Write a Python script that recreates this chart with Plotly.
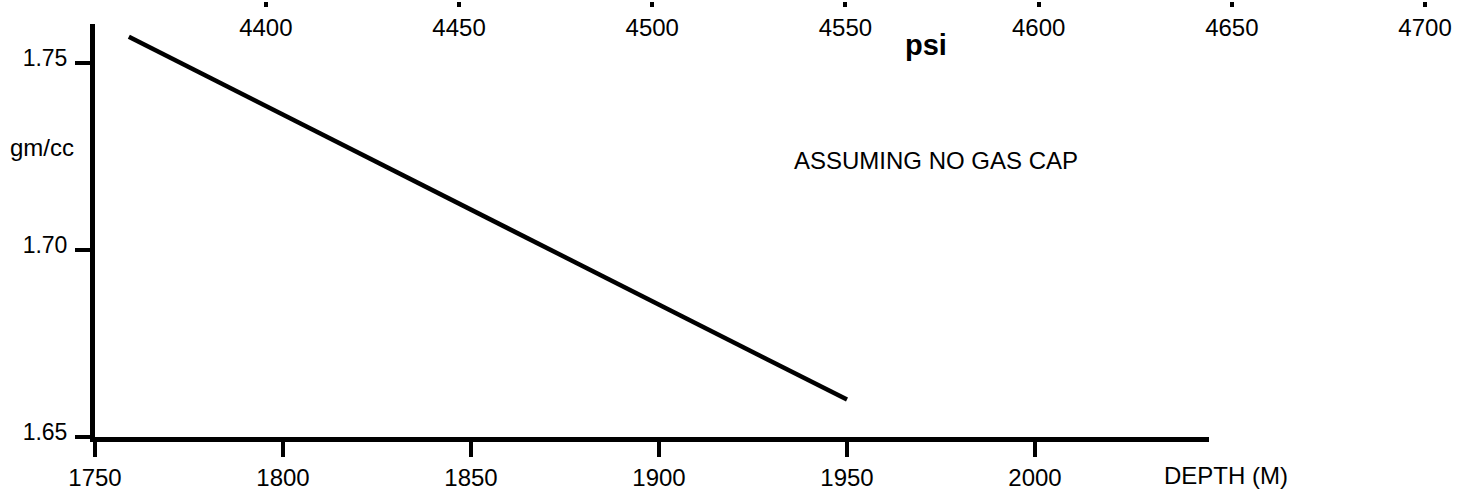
import plotly.graph_objects as go

# ---- data ----
depth_m = [1759, 1950]            # DEPTH (M)
density_gcc = [1.757, 1.660]      # gm/cc

depth_ticks = [1750, 1800, 1850, 1900, 1950, 2000]
density_ticks = [1.65, 1.70, 1.75]
density_labels = ["1.65", "1.70", "1.75"]
psi_ticks = [4400, 4450, 4500, 4550, 4600, 4650, 4700]

W, H = 1478, 495
FONT = "Liberation Sans, Arial, sans-serif"

fig = go.Figure()

fig.add_trace(go.Scatter(
    x=depth_m, y=density_gcc, mode="lines",
    line=dict(color="black", width=4.5),
    hoverinfo="skip", showlegend=False,
))

# invisible helper trace so the psi axis gets drawn
fig.add_trace(go.Scatter(
    x=psi_ticks, y=[0] * len(psi_ticks), mode="markers",
    marker=dict(opacity=0), xaxis="x2", yaxis="y3",
    hoverinfo="skip", showlegend=False,
))

fig.update_layout(
    width=W, height=H,
    margin=dict(l=0, r=0, t=0, b=0, autoexpand=False),
    showlegend=False,
    paper_bgcolor="white", plot_bgcolor="white",
    font=dict(family=FONT, color="black", size=24),
    xaxis=dict(
        domain=[95 / W, 1209 / W],
        range=[1750, 2046.28],
        anchor="y", automargin=False,
        showline=True, linecolor="black", linewidth=5,
        showgrid=False, zeroline=False,
        tickmode="array", tickvals=depth_ticks,
        ticks="outside", ticklen=15, tickwidth=4, tickcolor="black",
        ticklabelstandoff=0,
        tickfont=dict(size=24),
    ),
    yaxis=dict(
        domain=[1 - 437 / H, 1 - 24 / H],
        range=[1.65, 1.76043],
        anchor="x", automargin=False,
        showline=True, linecolor="black", linewidth=5,
        showgrid=False, zeroline=False,
        tickmode="array", tickvals=density_ticks, ticktext=density_labels,
        ticks="outside", ticklen=15, tickwidth=4, tickcolor="black",
        ticklabelstandoff=3, ticklabelshift=-5,
        tickfont=dict(size=23),
    ),
    xaxis2=dict(
        domain=[0, 1],
        range=[4331.2, 4713.7],
        anchor="y3", side="bottom", automargin=False,
        showline=False, showgrid=False, zeroline=False,
        tickmode="array", tickvals=psi_ticks,
        ticks="outside", ticklen=5, tickwidth=4, tickcolor="black",
        ticklabelstandoff=0,
        tickfont=dict(size=24),
    ),
    yaxis3=dict(
        domain=[1 - 1 / H, 1],
        anchor="x2", visible=False, range=[-1, 1],
    ),
    annotations=[
        dict(text="gm/cc", xref="paper", yref="paper",
             x=8 / W, y=1 - 148 / H, xanchor="left", yanchor="middle",
             showarrow=False, font=dict(size=24)),
        dict(text="<b>psi</b>", xref="paper", yref="paper",
             x=926 / W, y=1 - 45 / H, xanchor="center", yanchor="middle",
             showarrow=False, font=dict(size=29)),
        dict(text="ASSUMING NO GAS CAP", xref="paper", yref="paper",
             x=792 / W, y=1 - 160 / H, xanchor="left", yanchor="middle",
             showarrow=False, font=dict(size=24)),
        dict(text="DEPTH (M)", xref="paper", yref="paper",
             x=1162 / W, y=1 - 475 / H, xanchor="left", yanchor="middle",
             showarrow=False, font=dict(size=24)),
    ],
)

fig.write_html("out.html")
